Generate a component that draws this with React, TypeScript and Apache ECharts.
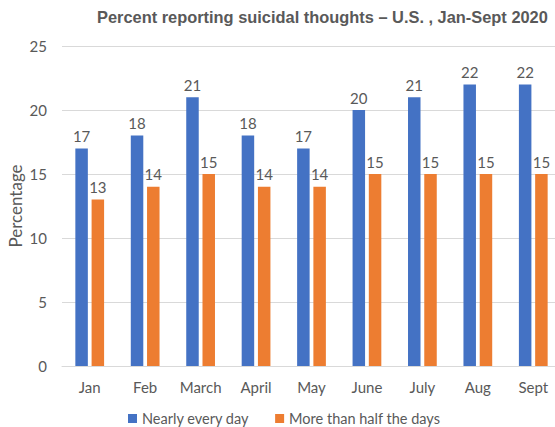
import React, { useEffect, useRef } from "react";
import * as echarts from "echarts";

const categories = ["Jan", "Feb", "March", "April", "May", "June", "July", "Aug", "Sept"];
const nearlyEveryDay = [17, 18, 21, 18, 17, 20, 21, 22, 22];
const moreThanHalf = [13, 14, 15, 14, 14, 15, 15, 15, 15];
const seriesNames = ["Nearly every day", "More than half the days"];
const titleText = "Percent reporting suicidal thoughts \u2013 U.S. , Jan-Sept 2020";
const yAxisName = "Percentage";

const TXT = "#595959";
const FONT = "Lato, 'Liberation Sans', sans-serif";

export default function App() {
  const ref = useRef<HTMLDivElement>(null);
  useEffect(() => {
    if (!ref.current) return;
    const chart = echarts.init(ref.current, null, { renderer: "svg" });
    const label = {
      show: true,
      position: "top" as const,
      distance: 5,
      color: TXT,
      fontFamily: FONT,
      fontSize: 15,
    };
    chart.setOption({
      animation: false,
      backgroundColor: "#ffffff",
      title: {
        text: titleText,
        left: 97,
        top: 9,
        padding: 0,
        textStyle: {
          fontFamily: "'Liberation Sans', Arial, sans-serif",
          fontWeight: "bold",
          fontSize: 16.4,
          color: TXT,
        },
      },
      legend: {
        left: 128,
        top: 411,
        padding: 0,
        itemWidth: 9,
        itemHeight: 9,
        itemGap: 26,
        icon: "rect",
        textStyle: { color: TXT, fontFamily: FONT, fontSize: 14.5 },
        data: seriesNames,
      },
      grid: {
        left: 62,
        right: -6,
        top: 46,
        bottom: 61,
        containLabel: false,
        outerBoundsMode: "none",
      },
      xAxis: {
        type: "category",
        data: categories,
        axisLine: { show: true, lineStyle: { color: "#D9D9D9" } },
        axisTick: { show: false },
        axisLabel: { color: TXT, fontFamily: FONT, fontSize: 15, margin: 13, interval: 0, hideOverlap: false },
      },
      yAxis: {
        type: "value",
        min: 0,
        max: 25,
        interval: 5,
        name: yAxisName,
        nameLocation: "middle",
        nameGap: 38,
        nameMoveOverlap: false,
        nameRotate: 90,
        nameTextStyle: { color: TXT, fontFamily: FONT, fontSize: 17 },
        axisLine: { show: false },
        axisTick: { show: false },
        splitLine: { lineStyle: { color: "#D9D9D9" } },
        axisLabel: { color: TXT, fontFamily: FONT, fontSize: 15, margin: 15 },
      },
      series: [
        {
          name: seriesNames[0],
          type: "bar",
          data: nearlyEveryDay,
          barWidth: 12.5,
          barGap: "30%",
          itemStyle: { color: "#4472C4" },
          label,
        },
        {
          name: seriesNames[1],
          type: "bar",
          data: moreThanHalf,
          barWidth: 12.5,
          itemStyle: { color: "#ED7D31" },
          label,
        },
      ],
    });
    return () => chart.dispose();
  }, []);
  return (
    <div
      ref={ref}
      style={{ position: "fixed", left: 0, top: 0, width: 555, height: 427, background: "#fff" }}
    />
  );
}
